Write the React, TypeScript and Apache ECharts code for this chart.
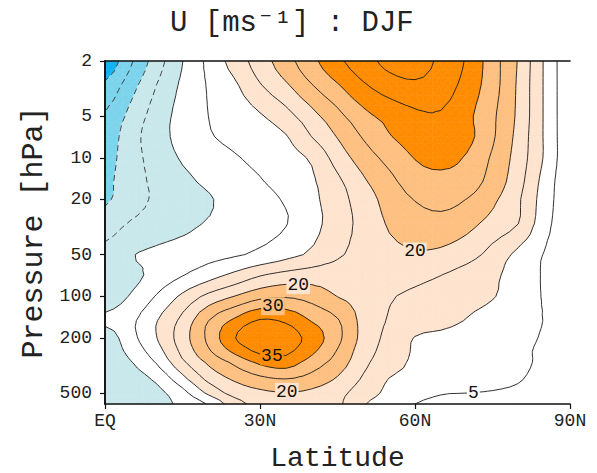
import React, { useEffect, useRef } from "react";
import * as echarts from "echarts";

// Grid of zonal wind (m/s), rows = pressure levels (hPa), cols = latitudes
const latitudes = [0, 5, 10, 15, 20, 25, 30, 35, 40, 45, 50, 55, 60, 65, 70, 75, 80, 85, 90];
const pressureLevels = [2, 3, 5, 7, 10, 15, 20, 30, 50, 70, 100, 150, 200, 250, 300, 400, 500, 600];

const u2hPa = [-24, -15.7, -7.4, -0.1, 6.2, 12, 17.5, 23, 28.6, 33.9, 37.9, 41.5, 42.5, 38.8, 34.5, 27.2, 19.6, 9.6, 1.5];
const u3hPa = [-19, -12, -4.9, 0.95, 5.4, 9.1, 14.6, 19.2, 24.7, 29.5, 34.3, 37.5, 39, 37.5, 33.2, 27.1, 19.2, 9.6, 1.5];
const u5hPa = [-14.5, -8.5, -2.7, 1.8, 5.0, 7.3, 9.5, 13.2, 18.3, 23.5, 28.5, 31.6, 33.9, 34.5, 31.2, 25.9, 19, 9.6, 1.5];
const u7hPa = [-13, -7.1, -2.0, 1.6, 4.5, 6.4, 8.0, 9.7, 15.1, 20.3, 25.5, 29.7, 32, 33.5, 31.5, 25.7, 18.4, 9.6, 1.5];
const u10hPa = [-12, -7.1, -2.8, 0.5, 2.5, 4.5, 6.4, 8.3, 10.7, 17.2, 22.4, 26.6, 30.2, 31.5, 29.5, 24.3, 17.8, 9.6, 1.5];
const u15hPa = [-11, -7.2, -3.8, -1.25, 0.9, 2.8, 4.6, 6.9, 9.3, 13.9, 19.2, 23.5, 27.5, 28.5, 27.5, 23, 16.9, 8.2, 1.5];
const u20hPa = [-10.7, -7.1, -4.2, -2.3, -0.4, 1.5, 3.4, 5.5, 8.8, 12.9, 17.6, 21.8, 25.2, 26.5, 24.9, 21, 15.7, 7.7, 1.5];
const u30hPa = [-7.5, -4.5, -2.8, -1.2, 0.4, 1.9, 3.3, 4.8, 8.4, 12.4, 16.7, 20.5, 22.5, 23.2, 21.5, 18.2, 15, 6.9, 1.5];
const u50hPa = [-3.5, -0.3, 1.0, 2.1, 3.3, 4.4, 6.0, 8.3, 10.9, 14.2, 17, 18.7, 19.5, 19, 17, 13.3, 8.7, 4.8, 1.5];
const u70hPa = [-2.5, -1.5, 1.7, 4.7, 7.8, 11.1, 14.5, 16.5, 17.5, 17.8, 17.8, 17.5, 16.5, 15.1, 13.1, 10.9, 8, 4.5, 1.5];
const u100hPa = [-2.8, 0.4, 5.4, 11, 16.3, 20, 23.5, 24.5, 23, 19.9, 18.2, 15.5, 14, 12.8, 11.6, 10.3, 7.7, 4.6, 1.5];
const u150hPa = [0.8, 3.9, 9.8, 16.4, 24.9, 30.9, 35.5, 34.2, 29.7, 25.5, 18.4, 14.6, 12.5, 11.4, 9.8, 8.1, 6.5, 4.9, 2];
const u200hPa = [-3, 3.3, 9.9, 17.7, 26.1, 34.7, 38.5, 37.5, 33, 26.4, 18.3, 13.6, 9.8, 9, 8.2, 7.3, 6.3, 4.5, 2];
const u250hPa = [-3.5, 1.6, 7.9, 16.3, 24.2, 31, 36, 36, 31.1, 24.6, 17.4, 12.9, 9.5, 8.5, 7.8, 6.9, 6, 4, 1.5];
const u300hPa = [-4.5, -0.3, 5.4, 14, 20.8, 26, 31, 32.5, 27.7, 22.9, 16.3, 12, 9.3, 8.3, 7.5, 6.8, 6, 4, 1.5];
const u400hPa = [-4, -2.5, 0.9, 8.2, 16.1, 20.5, 23.5, 24.7, 23, 19.3, 14.3, 9.8, 8.9, 8, 7.3, 6.5, 5.3, 3.5, 1.5];
const u500hPa = [-4, -2.5, -1.3, 3.4, 11, 16.8, 19, 19.8, 19, 16.5, 12.5, 8.8, 6.5, 5.2, 5.0, 4.7, 4.2, 3, 1.5];
const u600hPa = [-4, -3, -2, 1.4, 5.4, 12.7, 16.8, 18.4, 18, 16, 10.4, 7.6, 5, 4.6, 4.5, 4.3, 3.8, 2.8, 1.5];

const uByLevel = [u2hPa, u3hPa, u5hPa, u7hPa, u10hPa, u15hPa, u20hPa, u30hPa, u50hPa, u70hPa, u100hPa, u150hPa, u200hPa, u250hPa, u300hPa, u400hPa, u500hPa, u600hPa];

const fillBreaks = [-20, -10, 0, 10, 20, 30];
const fillColors = ["#12b1ef", "#7cd4ec", "#c9e8eb", "#ffffff", "#fee4cf", "#fec080", "#ff8c00"];
const contourLevels = [-25, -20, -15, -10, -5, 0, 5, 10, 15, 20, 25, 30, 35, 40, 45];

const contourLabels = [
  { lat: 37.4, p: 83, text: "20" },
  { lat: 32.5, p: 118, text: "30" },
  { lat: 32.3, p: 272, text: "35" },
  { lat: 35.2, p: 490, text: "20" },
  { lat: 60, p: 47.5, text: "20" },
  { lat: 71.3, p: 500, text: "5" },
];

const pressureTicks = [2, 5, 10, 20, 50, 100, 200, 500];
const latTicks = [0, 30, 60, 90];
const latTickLabels = ["EQ", "30N", "60N", "90N"];

const FONT = "'Liberation Mono', 'DejaVu Sans Mono', monospace";
const REFINE = 3; // display sub-division of each data cell (smooth contour drawing)

function bandColor(v: number) {
  let b = 0;
  while (b < fillBreaks.length && v >= fillBreaks[b]) b++;
  return fillColors[b];
}

type Pt = { x: number; y: number; v: number };

function clip(poly: Pt[], lev: number, sgn: number): Pt[] {
  const out: Pt[] = [];
  const n = poly.length;
  for (let i = 0; i < n; i++) {
    const a = poly[i];
    const b = poly[(i + 1) % n];
    const fa = sgn * (a.v - lev);
    const fb = sgn * (b.v - lev);
    if (fa >= 0) out.push(a);
    if (fa >= 0 !== fb >= 0) {
      const t = fa / (fa - fb);
      out.push({ x: a.x + t * (b.x - a.x), y: a.y + t * (b.y - a.y), v: lev });
    }
  }
  return out;
}

function cr(p0: number, p1: number, p2: number, p3: number, t: number) {
  const t2 = t * t;
  const t3 = t2 * t;
  return 0.5 * (2 * p1 + (-p0 + p2) * t + (2 * p0 - 5 * p1 + 4 * p2 - p3) * t2 + (-p0 + 3 * p1 - 3 * p2 + p3) * t3);
}

function sampleField(fi: number, fj: number) {
  const nx = latitudes.length;
  const ny = pressureLevels.length;
  const i1 = Math.min(Math.floor(fi), nx - 2);
  const j1 = Math.min(Math.floor(fj), ny - 2);
  const tx = fi - i1;
  const ty = fj - j1;
  const ci = (i: number) => Math.max(0, Math.min(nx - 1, i));
  const cj = (j: number) => Math.max(0, Math.min(ny - 1, j));
  const rows: number[] = [];
  for (let dj = -1; dj <= 2; dj++) {
    const row = uByLevel[cj(j1 + dj)];
    rows.push(cr(row[ci(i1 - 1)], row[ci(i1)], row[ci(i1 + 1)], row[ci(i1 + 2)], tx));
  }
  return cr(rows[0], rows[1], rows[2], rows[3], ty);
}

function renderField(params: any, api: any) {
  if (params.dataIndex !== 0) return null;
  const nx = latitudes.length;
  const ny = pressureLevels.length;
  const gx: number[] = latitudes.map((la) => api.coord([la, pressureLevels[0]])[0]);
  const gy: number[] = pressureLevels.map((p) => api.coord([latitudes[0], p])[1]);
  const fnx = (nx - 1) * REFINE + 1;
  const fny = (ny - 1) * REFINE + 1;
  const P: number[][] = [];
  const V: number[] = [];
  for (let j = 0; j < fny; j++) {
    const fj = j / REFINE;
    const j0 = Math.min(Math.floor(fj), ny - 2);
    const y = gy[j0] + (fj - j0) * (gy[j0 + 1] - gy[j0]);
    for (let i = 0; i < fnx; i++) {
      const fi = i / REFINE;
      const i0 = Math.min(Math.floor(fi), nx - 2);
      const x = gx[i0] + (fi - i0) * (gx[i0 + 1] - gx[i0]);
      P.push([x, y]);
      V.push(sampleField(fi, fj));
    }
  }
  const tris: number[][] = [];
  for (let j = 0; j < fny - 1; j++) {
    for (let i = 0; i < fnx - 1; i++) {
      const a = j * fnx + i;
      const b = a + 1;
      const d = a + fnx;
      const c = d + 1;
      if (Math.abs(V[a] - V[c]) < Math.abs(V[b] - V[d])) {
        tris.push([a, b, c], [a, c, d]);
      } else {
        tris.push([a, b, d], [b, c, d]);
      }
    }
  }
  const children: any[] = [];
  const lows = [-Infinity, ...fillBreaks];
  const highs = [...fillBreaks, Infinity];
  for (const t of tris) {
    const vs = t.map((k) => V[k]);
    const mn = Math.min(...vs);
    const mx = Math.max(...vs);
    for (let b = 0; b < fillColors.length; b++) {
      if (highs[b] <= mn || lows[b] > mx) continue;
      let poly: Pt[] = t.map((k) => ({ x: P[k][0], y: P[k][1], v: V[k] }));
      if (lows[b] > -Infinity) poly = clip(poly, lows[b], 1);
      if (poly.length >= 3 && highs[b] < Infinity) poly = clip(poly, highs[b], -1);
      if (poly.length < 3) continue;
      children.push({
        type: "polygon",
        silent: true,
        shape: { points: poly.map((q) => [q.x, q.y]) },
        style: { fill: fillColors[b], stroke: fillColors[b], lineWidth: 0.6 },
      });
    }
  }
  const key = (a: number, b: number) => (a < b ? a + "_" + b : b + "_" + a);
  for (const level of contourLevels) {
    const pts = new Map<string, number[]>();
    const adj = new Map<string, string[]>();
    for (const t of tris) {
      const ks: string[] = [];
      for (let e = 0; e < 3; e++) {
        const a = t[e];
        const b = t[(e + 1) % 3];
        const ia = V[a] >= level;
        const ib = V[b] >= level;
        if (ia !== ib) {
          const k = key(a, b);
          if (!pts.has(k)) {
            const s = (level - V[a]) / (V[b] - V[a]);
            pts.set(k, [P[a][0] + s * (P[b][0] - P[a][0]), P[a][1] + s * (P[b][1] - P[a][1])]);
          }
          ks.push(k);
        }
      }
      if (ks.length === 2) {
        if (!adj.has(ks[0])) adj.set(ks[0], []);
        if (!adj.has(ks[1])) adj.set(ks[1], []);
        adj.get(ks[0])!.push(ks[1]);
        adj.get(ks[1])!.push(ks[0]);
      }
    }
    const visited = new Set<string>();
    const walk = (start: string) => {
      const line = [pts.get(start)!];
      visited.add(start);
      let cur = start;
      while (true) {
        const nb = (adj.get(cur) || []).find((n) => !visited.has(n));
        if (!nb) break;
        visited.add(nb);
        line.push(pts.get(nb)!);
        cur = nb;
      }
      return line;
    };
    const lines: number[][][] = [];
    adj.forEach((nbs, k) => {
      if (nbs.length === 1 && !visited.has(k)) lines.push(walk(k));
    });
    adj.forEach((_nbs, k) => {
      if (!visited.has(k)) {
        const l = walk(k);
        l.push(l[0]);
        lines.push(l);
      }
    });
    for (const l of lines) {
      children.push({
        type: "polyline",
        silent: true,
        shape: { points: l },
        style: {
          stroke: level < 0 ? "#333" : "#1a1a1a",
          lineWidth: 0.9,
          fill: null,
          lineDash: level < 0 ? [6, 4] : null,
        },
      });
    }
  }
  for (const lab of contourLabels) {
    const c = api.coord([lab.lat, lab.p]);
    children.push({
      type: "text",
      silent: true,
      x: c[0],
      y: c[1],
      style: {
        text: lab.text,
        fill: "#111",
        font: "18px " + FONT,
        align: "center",
        verticalAlign: "middle",
        backgroundColor: bandColor(Number(lab.text) - 0.5),
        padding: [0, 1, 0, 1],
      },
    });
  }
  return { type: "group", children };
}

export default function App() {
  const ref = useRef<HTMLDivElement>(null);
  useEffect(() => {
    if (!ref.current) return;
    const chart = echarts.init(ref.current, undefined, { renderer: "svg" });
    const axisText = { fontFamily: FONT, fontSize: 18, color: "#222" };
    chart.setOption({
      animation: false,
      backgroundColor: "#ffffff",
      title: {
        text: "U [ms⁻¹] : DJF",
        left: 170,
        top: 9,
        padding: 0,
        textStyle: { fontFamily: FONT, fontSize: 29, fontWeight: "normal", color: "#222" },
      },
      grid: { left: 105, right: 27, top: 61, bottom: 69, containLabel: false, outerBoundsMode: "none" },
      xAxis: [
        {
          type: "value",
          min: 0,
          max: 90,
          interval: 30,
          z: 10,
          name: "Latitude",
          nameLocation: "middle",
          nameGap: 40,
          nameTextStyle: { fontFamily: FONT, fontSize: 28, color: "#222" },
          axisLine: { lineStyle: { color: "#111", width: 1.6 } },
          axisTick: { length: 5, lineStyle: { color: "#111", width: 1.2 } },
          axisLabel: {
            ...axisText,
            margin: 8,
            formatter: (v: number) => {
              const i = latTicks.indexOf(v);
              return i >= 0 ? latTickLabels[i] : "";
            },
          },
          splitLine: { show: false },
        },
        {
          type: "value",
          min: 0,
          max: 90,
          position: "top",
          z: 10,
          axisLine: { lineStyle: { color: "#111", width: 1.6 } },
          axisTick: { show: false },
          axisLabel: { show: false },
          splitLine: { show: false },
        },
      ],
      yAxis: [
        {
          type: "log",
          logBase: 10,
          min: 2,
          max: 600,
          inverse: true,
          z: 10,
          name: "Pressure [hPa]",
          nameLocation: "middle",
          nameGap: 52,
          nameTextStyle: { fontFamily: FONT, fontSize: 30, color: "#222" },
          axisLine: { show: true, lineStyle: { color: "#111", width: 1.6 } },
          axisTick: { show: true, length: 5, customValues: pressureTicks, lineStyle: { color: "#111", width: 1.2 } },
          axisLabel: { ...axisText, margin: 13, customValues: pressureTicks, formatter: (v: number) => String(Math.round(v)) },
          splitLine: { show: false },
          minorTick: { show: false },
        },
        {
          type: "log",
          logBase: 10,
          min: 2,
          max: 600,
          inverse: true,
          position: "right",
          z: 10,
          axisLine: { show: true, lineStyle: { color: "#111", width: 1.6 } },
          axisTick: { show: false },
          axisLabel: { show: false },
          splitLine: { show: false },
        },
      ],
      series: [
        {
          type: "custom",
          coordinateSystem: "cartesian2d",
          xAxisIndex: 0,
          yAxisIndex: 0,
          renderItem: renderField,
          data: [[45, 50]],
          silent: true,
        },
      ],
    });
    return () => chart.dispose();
  }, []);
  return <div ref={ref} style={{ position: "absolute", left: 0, top: 0, width: 597, height: 473 }} />;
}
